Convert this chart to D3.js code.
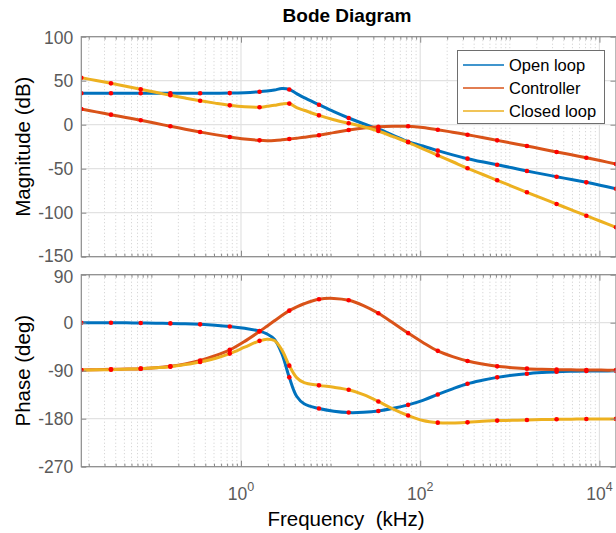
<!DOCTYPE html>
<html><head><meta charset="utf-8">
<script src="https://cdn.jsdelivr.net/npm/d3@7"></script>
<style>
body{margin:0;background:#fff}
svg{display:block}
text{font-family:"Liberation Sans",Arial,Helvetica,sans-serif}
</style>
</head><body>
<svg id="chart" width="616" height="533"></svg>
<script>
// ---------------- DATA ----------------
// log10 of frequency in kHz at the sampled points
const logFreq = [-1.782,-1.616,-1.451,-1.285,-1.119,-0.953,-0.788,-0.622,-0.456,-0.290,
  -0.125,0.041,0.207,0.290,0.373,0.456,0.539,0.621,0.704,0.870,
  1.036,1.202,1.367,1.533,1.699,1.865,2.030,2.196,2.362,2.528,
  2.693,2.859,3.025,3.191,3.356,3.522,3.688,3.854,4.019,4.185];
// marker points (every 1/18 of the axis span)
const markerLogFreq = [-1.782,-1.451,-1.119,-0.788,-0.456,-0.125,0.207,0.539,0.870,1.202,
  1.533,1.865,2.196,2.528,2.859,3.191,3.522,3.854,4.185];

const seriesNames  = ["Open loop","Controller","Closed loop"];
const seriesColors = ["#0072BD","#D95319","#EDB120"];

// Magnitude (dB)
const magOpen = [35.7,35.7,35.7,35.7,35.7,35.7,35.7,35.7,35.7,35.8,
  35.9,36.4,37.5,38.3,39.4,41.0,40.0,35.3,30.7,22.7,
  14.8,7.6,1.1,-4.9,-12.0,-19.3,-24.2,-29.5,-34.3,-38.6,
  -42.2,-45.5,-49.0,-52.6,-55.9,-59.1,-62.3,-65.5,-69.0,-72.7];
const magController = [17.8,14.6,11.4,8.2,5.0,1.6,-1.8,-5.1,-8.3,-11.3,
  -14.0,-16.3,-17.8,-18.1,-17.9,-17.2,-16.3,-15.3,-14.3,-12.0,
  -9.0,-6.0,-3.8,-2.3,-1.7,-1.8,-3.2,-5.7,-8.5,-11.4,
  -14.6,-17.8,-21.0,-24.2,-27.6,-31.0,-34.2,-37.5,-41.0,-44.7];
const magClosed = [53.4,50.2,47.0,43.6,40.2,36.8,33.4,30.3,27.3,24.5,
  22.0,20.3,19.8,20.9,22.0,23.6,24.0,19.3,16.4,10.6,
  5.7,1.6,-2.3,-7.2,-13.6,-20.0,-27.4,-34.8,-42.1,-49.5,
  -56.3,-63.2,-70.0,-76.8,-83.4,-90.1,-96.8,-103.4,-110.0,-116.6];

// Phase (deg)
const phaseOpen = [0,0,0,-0.2,-0.6,-0.9,-1.3,-2.0,-3.1,-4.7,
  -7.0,-10.5,-15.7,-21,-31,-58,-102.5,-138,-152,-161,
  -166,-168.5,-168,-165.5,-160.5,-154,-145.5,-134.5,-124,-114.5,
  -108,-102.5,-98.5,-95.6,-93.5,-91.8,-91.0,-90.6,-90.4,-90.3];
const phaseController = [-88.7,-88.1,-87.4,-86.9,-86.2,-84.5,-81.8,-77.5,-71,-62,
  -51,-35,-16.4,-6.5,3.5,13.3,22.6,29.5,35.5,44,
  45.5,42,32,17.6,-0.5,-19.5,-37,-52.8,-63.5,-71.7,
  -77.5,-81.8,-84.3,-86.2,-87.3,-88,-88.4,-88.7,-88.9,-89];
const phaseClosed = [-88.7,-88.4,-88,-87.2,-86.2,-84.5,-82.4,-78.5,-73.6,-67,
  -57.9,-46,-34,-31,-33.5,-51,-80.5,-103,-112.5,-117.5,
  -121,-125.8,-135,-147.7,-162,-174,-183.5,-187.4,-188,-186.8,
  -185,-183.6,-183,-182.4,-181.7,-181.1,-180.8,-180.5,-180.5,-180.4];

const magTicks   = [-150,-100,-50,0,50,100];
const phaseTicks = [-270,-180,-90,0,90];
const xTickExponents = [0,2,4];
const xLogLimits = [-1.782,4.185];

// ---------------- LAYOUT ----------------
const svg = d3.select("#chart");
const left = 81.3, right = 616;
const magBox = {top:36.7, bottom:256.7};
const phBox  = {top:274.7, bottom:466.7};
const axisColor = "#8a8a8a", tickLabelColor = "#5a5a5a";

const x = d3.scaleLog().domain([10**xLogLimits[0], 10**xLogLimits[1]]).range([left, right]);

// minor x ticks
const minorX = [];
for (let e = Math.floor(xLogLimits[0]); e <= Math.ceil(xLogLimits[1]); e++) {
  for (let m = 1; m <= 9; m++) {
    const v = m * 10**e;
    if (m === 1 && xTickExponents.includes(e)) continue;
    if (v >= x.domain()[0] && v <= x.domain()[1]) minorX.push(v);
  }
}
const majorX = xTickExponents.map(e => 10**e);

const defs = svg.append("defs");

function panel(id, box, domain, ticks, series, showXLabels, topLabelShift, bottomLabelShift) {
  const y = d3.scaleLinear().domain(domain).range([box.bottom, box.top]);
  const g = svg.append("g");
  defs.append("clipPath").attr("id", id).append("rect")
    .attr("x", left).attr("y", box.top).attr("width", right-left).attr("height", box.bottom-box.top);

  // minor grid (dotted)
  g.append("g").selectAll("line").data(minorX).join("line")
    .attr("x1", d=>x(d)).attr("x2", d=>x(d)).attr("y1", box.top).attr("y2", box.bottom)
    .attr("stroke", "#cdcdcd").attr("stroke-width", 1).attr("stroke-dasharray", "1 2.5");
  // major grid
  g.append("g").selectAll("line").data(majorX).join("line")
    .attr("x1", d=>x(d)).attr("x2", d=>x(d)).attr("y1", box.top).attr("y2", box.bottom)
    .attr("stroke", "#e2e2e2").attr("stroke-width", 1.2);
  g.append("g").selectAll("line").data(ticks).join("line")
    .attr("x1", left).attr("x2", right).attr("y1", d=>y(d)).attr("y2", d=>y(d))
    .attr("stroke", "#e2e2e2").attr("stroke-width", 1.2);

  // curves
  const line = d3.line().x((d,i)=>x(10**logFreq[i])).y(d=>y(d)).curve(d3.curveCatmullRom.alpha(0.5));
  const cg = g.append("g").attr("clip-path", `url(#${id})`);
  series.forEach((s, k) => {
    cg.append("path").datum(s).attr("d", line).attr("fill","none")
      .attr("stroke", seriesColors[k]).attr("stroke-width", 3).attr("stroke-linejoin","round");
  });
  series.forEach((s, k) => {
    const pts = markerLogFreq.map(lf => {
      const i = logFreq.findIndex(v => Math.abs(v - lf) < 1e-6);
      return [lf, s[i]];
    });
    cg.append("g").selectAll("circle").data(pts).join("circle")
      .attr("cx", d=>x(10**d[0])).attr("cy", d=>y(d[1])).attr("r", 2.3).attr("fill", "#ff0000");
  });

  // axes (inward ticks)
  const axL = d3.axisLeft(y).tickValues(ticks).tickSize(-5).tickPadding(8).tickFormat(d => String(d));
  const axR = d3.axisRight(y).tickValues(ticks).tickSize(-5).tickFormat("");
  const axB = d3.axisBottom(x).tickValues(majorX).tickSize(-6).tickFormat("");
  const axT = d3.axisTop(x).tickValues(majorX).tickSize(-6).tickFormat("");
  const axBm = d3.axisBottom(x).tickValues(minorX).tickSize(-3).tickFormat("");
  const axTm = d3.axisTop(x).tickValues(minorX).tickSize(-3).tickFormat("");
  const gl = g.append("g").attr("transform", `translate(${left},0)`).call(axL);
  g.append("g").attr("transform", `translate(${right-0.5},0)`).call(axR);
  g.append("g").attr("transform", `translate(0,${box.bottom})`).call(axB);
  g.append("g").attr("transform", `translate(0,${box.top})`).call(axT);
  g.append("g").attr("transform", `translate(0,${box.bottom})`).call(axBm);
  g.append("g").attr("transform", `translate(0,${box.top})`).call(axTm);
  g.selectAll(".domain").remove();
  g.selectAll(".tick line").attr("stroke", axisColor);
  gl.selectAll("text").attr("fill", tickLabelColor).style("font-size","17.5px")
    .style("font-family", '"Liberation Sans",Arial,sans-serif')
    .attr("y", d => d === domain[1] ? topLabelShift : (d === domain[0] ? bottomLabelShift : 0));
  // box
  g.append("rect").attr("x", left).attr("y", box.top).attr("width", right-left).attr("height", box.bottom-box.top)
    .attr("fill","none").attr("stroke", axisColor).attr("stroke-width", 1.2);

  if (showXLabels) {
    const lab = g.append("g").selectAll("text").data(xTickExponents).join("text")
      .attr("x", d=>x(10**d)).attr("y", 500).attr("text-anchor","middle")
      .attr("fill", tickLabelColor).style("font-size","17.5px");
    lab.append("tspan").text("10");
    lab.append("tspan").attr("dy", -9).style("font-size","12.5px").text(d=>String(d));
  }
  return y;
}

panel("clipMag", magBox, [-150,100], magTicks, [magOpen, magController, magClosed], false, 1, -1);
panel("clipPh", phBox, [-270,90], phaseTicks, [phaseOpen, phaseController, phaseClosed], true, 2.5, 0);

// titles and labels
svg.append("text").attr("x", 347).attr("y", 22).attr("text-anchor","middle")
  .style("font-size","19px").style("font-weight","bold").attr("fill","#000").text("Bode Diagram");
svg.append("text").attr("x", 346).attr("y", 526).attr("text-anchor","middle")
  .style("font-size","20.5px").attr("fill","#000").text("Frequency\u00a0\u00a0(kHz)");
svg.append("text").attr("transform", `translate(30,${(magBox.top+magBox.bottom)/2}) rotate(-90)`)
  .attr("text-anchor","middle").style("font-size","20.5px").attr("fill","#000").text("Magnitude (dB)");
svg.append("text").attr("transform", `translate(30,${(phBox.top+phBox.bottom)/2}) rotate(-90)`)
  .attr("text-anchor","middle").style("font-size","20.5px").attr("fill","#000").text("Phase (deg)");

// legend
const lg = svg.append("g");
lg.append("rect").attr("x", 457.5).attr("y", 50.5).attr("width", 147).attr("height", 73)
  .attr("fill","#fff").attr("stroke","#6e6e6e").attr("stroke-width",1);
const rows = lg.selectAll("g.row").data(seriesNames).join("g").attr("class","row")
  .attr("transform", (d,i)=>`translate(0,${65 + i*23})`);
rows.append("line").attr("x1", 463).attr("x2", 504).attr("y1",0).attr("y2",0)
  .attr("stroke", (d,i)=>seriesColors[i]).attr("stroke-width", 1.5);
rows.append("text").attr("x", 509).attr("y", 0).attr("dy","0.36em")
  .style("font-size","16.5px").attr("fill","#000").text(d=>d);
</script>
</body></html>
